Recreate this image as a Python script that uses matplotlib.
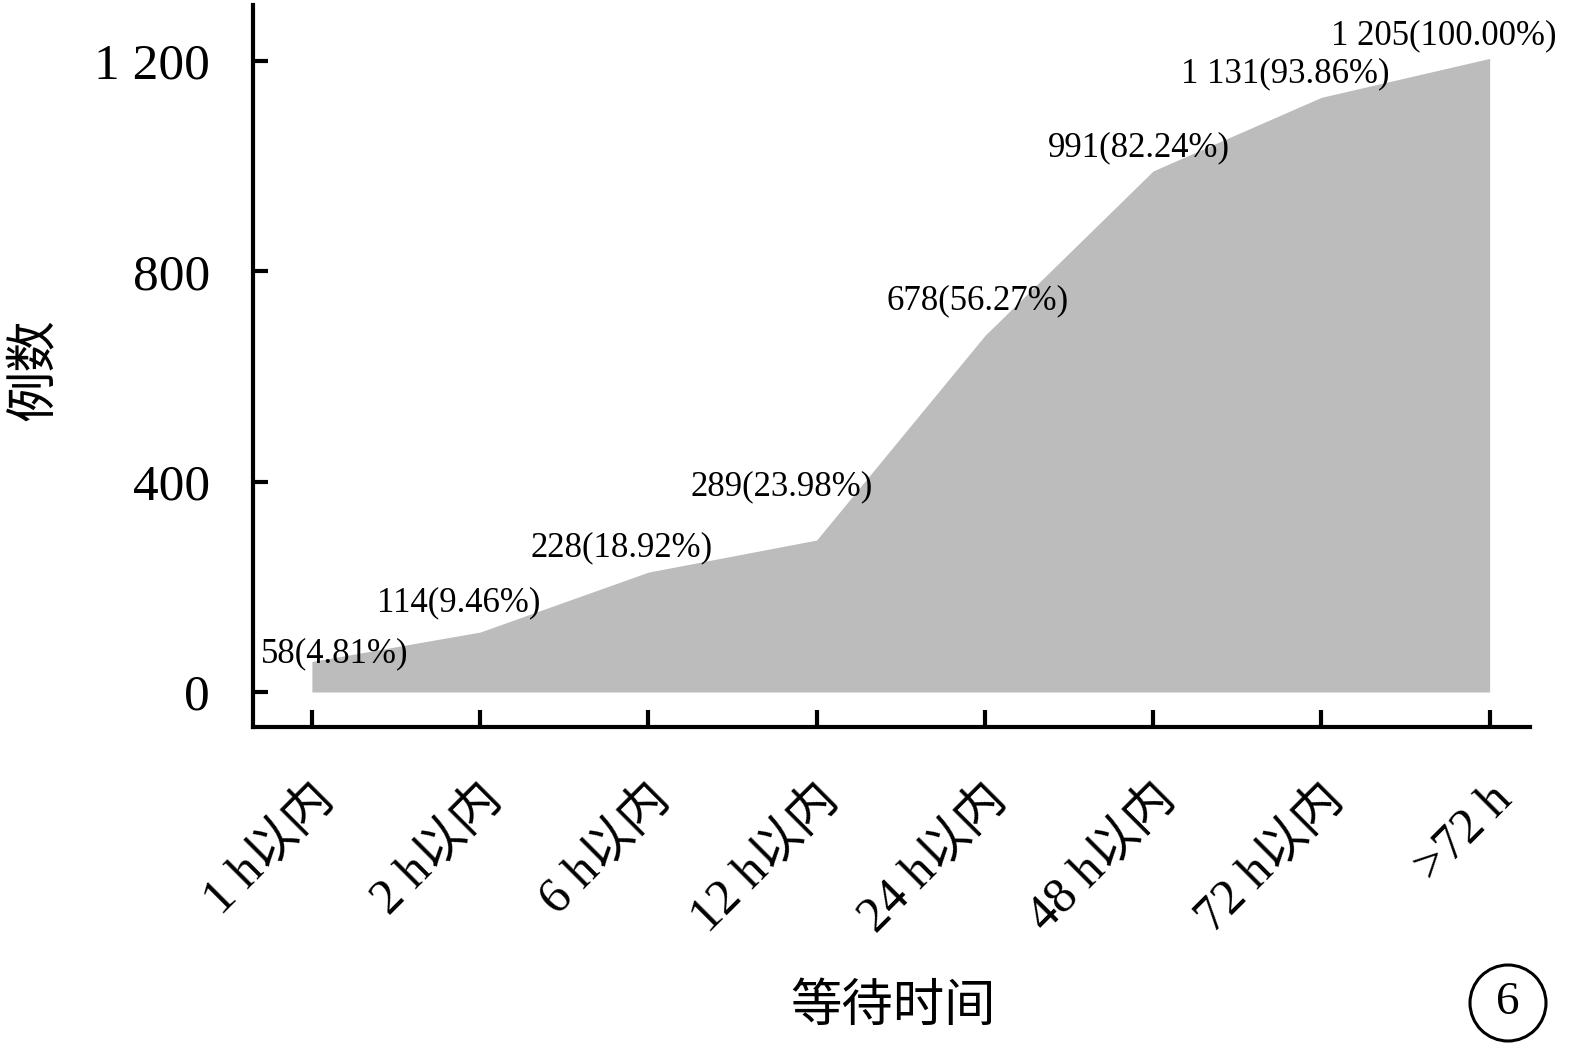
import matplotlib
matplotlib.use('Agg')
import matplotlib.pyplot as plt
import matplotlib.transforms as mtransforms
from matplotlib.patches import Ellipse

plt.rcParams['font.family'] = ['Liberation Serif', 'Noto Sans CJK SC']

# 数据
categories = ['1 h以内', '2 h以内', '6 h以内', '12 h以内', '24 h以内', '48 h以内', '72 h以内', '>72 h']
counts = [58, 114, 228, 289, 678, 991, 1131, 1205]
percents = ['4.81', '9.46', '18.92', '23.98', '56.27', '82.24', '93.86', '100.00']
yticks = [0, 400, 800, 1200]
ytick_labels = ['0', '400', '800', '1 200']

# 标注偏移（像素）
label_offsets = [(23, 8), (-21, 29), (-27, 24), (-35, 53), (-7, 35), (-14, 23), (-36, 24), (-46, 23)]

fig = plt.figure(figsize=(15.75, 10.53), dpi=100)
ax = fig.add_axes([253 / 1575, 1 - 727 / 1053, (1530 - 253) / 1575, (727 - 5) / 1053])

x = list(range(len(categories)))
ax.fill_between(x, 0, counts, color='#bcbcbc', lw=0)

def fmt_count(v):
    s = str(v)
    return s[:-3] + ' ' + s[-3:] if len(s) > 3 else s

for i, (c, p) in enumerate(zip(counts, percents)):
    dx, dy = label_offsets[i]
    ax.annotate(f'{fmt_count(c)}({p}%)', xy=(i, c), xytext=(dx * 0.72, dy * 0.72),
                textcoords='offset points', ha='center', va='center', fontsize=25)

ax.set_xlim(-0.35, 7.24)
ax.set_ylim(-66.6, 1306.6)

for s in ['top', 'right']:
    ax.spines[s].set_visible(False)
for s in ['left', 'bottom']:
    ax.spines[s].set_linewidth(3)

ax.set_yticks(yticks)
ax.set_yticklabels(ytick_labels, fontsize=37)
ax.tick_params(axis='y', direction='in', length=11, width=3, pad=31)

ax.set_xticks(x)
ax.set_xticklabels(categories, fontsize=36, rotation=45, ha='right', va='center',
                   rotation_mode='anchor')
ax.tick_params(axis='x', direction='in', length=12, width=3, pad=47)
offset = mtransforms.ScaledTranslation(11 / 72, 0, fig.dpi_scale_trans)
for lab in ax.get_xticklabels():
    lab.set_transform(lab.get_transform() + offset)

fig.text(893 / 1575, 1 - 1008 / 1053, '等待时间', fontsize=37, ha='center', va='center')
fig.text(35 / 1575, 1 - 370 / 1053, '例数', fontsize=37, ha='center', va='center', rotation=90)

# 右下角圆圈编号
fig.add_artist(Ellipse((1508 / 1575, 1 - 1003 / 1053), 76 / 1575, 76 / 1053,
                       transform=fig.transFigure, fill=False, ec='black', lw=2.2))
fig.text(1508 / 1575, 1 - 1003 / 1053, '6', fontsize=34, ha='center', va='center')

fig.savefig('out.png', dpi=100)
